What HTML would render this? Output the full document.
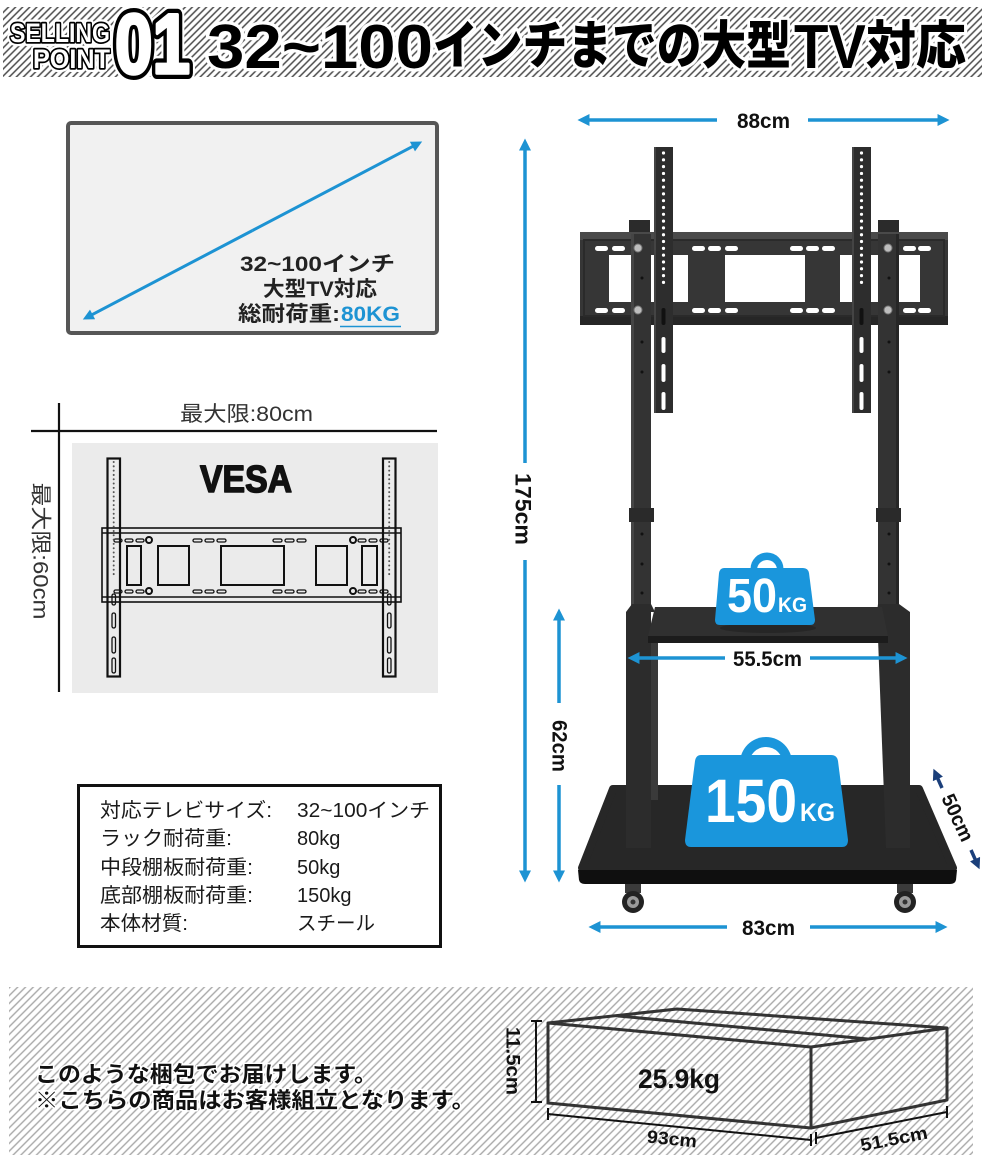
<!DOCTYPE html>
<html><head><meta charset="utf-8"><style>
html,body{margin:0;padding:0;background:#fff;}
svg{display:block;}
.jp{font-family:"Liberation Sans","Noto Sans CJK JP",sans-serif;}
</style></head><body>
<svg width="984" height="1159" viewBox="0 0 984 1159" xmlns="http://www.w3.org/2000/svg" class="jp">
<defs>
<pattern id="h1" width="5" height="5" patternUnits="userSpaceOnUse" patternTransform="rotate(45)">
<rect width="5" height="5" fill="#fff"/><line x1="1" y1="0" x2="1" y2="5" stroke="#4a4a4a" stroke-width="1.5"/></pattern>
<pattern id="h2" width="5.5" height="5.5" patternUnits="userSpaceOnUse" patternTransform="rotate(45)">
<rect width="5.5" height="5.5" fill="#fff"/><line x1="1" y1="0" x2="1" y2="5.5" stroke="#a8a8a8" stroke-width="1.4"/></pattern>
<marker id="ab" viewBox="0 0 10 10" refX="5.4" refY="5" markerWidth="14" markerHeight="12" markerUnits="userSpaceOnUse" orient="auto"><path d="M0,0 L10,5 L0,10 z" fill="#1d93d3"/></marker>
<marker id="ab2" viewBox="0 0 10 10" refX="5.4" refY="5" markerWidth="13" markerHeight="11" markerUnits="userSpaceOnUse" orient="auto"><path d="M0,0 L10,5 L0,10 z" fill="#1d93d3"/></marker>
<marker id="an" viewBox="0 0 10 10" refX="5.4" refY="5" markerWidth="13" markerHeight="11" markerUnits="userSpaceOnUse" orient="auto"><path d="M0,0 L10,5 L0,10 z" fill="#1b3f7a"/></marker>
</defs>
<rect width="984" height="1159" fill="#fff"/>

<!-- HEADER -->
<rect x="3" y="7" width="979" height="70" fill="url(#h1)"/>
<g font-weight="bold" font-family="Liberation Sans, sans-serif">
<text x="10" y="42" font-size="27" textLength="100" lengthAdjust="spacingAndGlyphs" fill="#fff" stroke="#fff" stroke-width="8" stroke-linejoin="round">SELLING</text>
<text x="10" y="42" font-size="27" textLength="100" lengthAdjust="spacingAndGlyphs" fill="#fff" stroke="#000" stroke-width="3.5" stroke-linejoin="round" paint-order="stroke">SELLING</text>
<text x="33" y="68" font-size="27" textLength="77" lengthAdjust="spacingAndGlyphs" fill="#fff" stroke="#fff" stroke-width="8" stroke-linejoin="round">POINT</text>
<text x="33" y="68" font-size="27" textLength="77" lengthAdjust="spacingAndGlyphs" fill="#fff" stroke="#000" stroke-width="3.5" stroke-linejoin="round" paint-order="stroke">POINT</text>
<text x="115" y="73" font-size="84" textLength="75" lengthAdjust="spacingAndGlyphs" fill="#fff" stroke="#fff" stroke-width="17" stroke-linejoin="round">01</text>
<text x="115" y="73" font-size="84" textLength="75" lengthAdjust="spacingAndGlyphs" fill="#000" stroke="#000" stroke-width="12" stroke-linejoin="round">01</text>
<text x="115" y="73" font-size="84" textLength="75" lengthAdjust="spacingAndGlyphs" fill="#fff" stroke="#fff" stroke-width="3.5" stroke-linejoin="round">01</text>
</g>
<g font-weight="900" fill="#777" opacity="0.6" transform="translate(2,2)">
<text x="207" y="68" font-size="62" textLength="226" lengthAdjust="spacingAndGlyphs" font-family="Liberation Sans, sans-serif" font-weight="bold">32~100</text>
<text x="433" y="64" font-size="52" textLength="358" lengthAdjust="spacingAndGlyphs">インチまでの大型</text>
<text x="794" y="68" font-size="62" textLength="72" lengthAdjust="spacingAndGlyphs" font-family="Liberation Sans, sans-serif" font-weight="bold">TV</text>
<text x="866" y="64" font-size="52" textLength="100" lengthAdjust="spacingAndGlyphs">対応</text>
</g>
<g font-weight="900" fill="#000" stroke="#fff" stroke-width="6.5" stroke-linejoin="round" paint-order="stroke">
<text x="207" y="68" font-size="62" textLength="226" lengthAdjust="spacingAndGlyphs" font-family="Liberation Sans, sans-serif" font-weight="bold">32~100</text>
<text x="433" y="64" font-size="52" textLength="358" lengthAdjust="spacingAndGlyphs">インチまでの大型</text>
<text x="794" y="68" font-size="62" textLength="72" lengthAdjust="spacingAndGlyphs" font-family="Liberation Sans, sans-serif" font-weight="bold">TV</text>
<text x="866" y="64" font-size="52" textLength="100" lengthAdjust="spacingAndGlyphs">対応</text>
</g>

<!-- TV BOX -->
<rect x="68" y="123" width="369" height="210" rx="3" fill="#f1f1f1" stroke="#565656" stroke-width="4"/>
<line x1="252.5" y1="230.5" x2="417.7" y2="143.8" stroke="#1d93d3" stroke-width="3" marker-end="url(#ab2)"/>
<line x1="252.5" y1="230.5" x2="87.3" y2="317.2" stroke="#1d93d3" stroke-width="3" marker-end="url(#ab2)"/>
<g font-weight="bold" font-size="21" fill="#222" stroke="#f1f1f1" stroke-width="3" paint-order="stroke">
<text x="240" y="271" textLength="155" lengthAdjust="spacingAndGlyphs">32~100インチ</text>
<text x="263" y="296" textLength="114" lengthAdjust="spacingAndGlyphs">大型TV対応</text>
<text x="238" y="321" textLength="102" lengthAdjust="spacingAndGlyphs">総耐荷重:</text>
<text x="341" y="321" textLength="59" lengthAdjust="spacingAndGlyphs" fill="#1d93d3">80KG</text>
</g>
<line x1="340" y1="326.5" x2="401" y2="326.5" stroke="#1d93d3" stroke-width="1.5"/>

<!-- VESA -->
<rect x="72" y="443" width="366" height="250" fill="#ebebeb"/>
<line x1="31" y1="431" x2="437" y2="431" stroke="#111" stroke-width="2.2"/>
<line x1="59" y1="403" x2="59" y2="692" stroke="#111" stroke-width="2.2"/>
<text x="180" y="421" font-size="21" fill="#333" textLength="133" lengthAdjust="spacingAndGlyphs">最大限:80cm</text>
<text transform="translate(40,551) rotate(90)" text-anchor="middle" dominant-baseline="central" font-size="21" fill="#333" textLength="137" lengthAdjust="spacingAndGlyphs">最大限:60cm</text>
<text x="200" y="492" font-size="38" font-weight="bold" fill="#111" stroke="#111" stroke-width="1.6" stroke-linejoin="round" font-family="Liberation Sans, sans-serif" textLength="92" lengthAdjust="spacingAndGlyphs">VESA</text>
<g fill="none" stroke="#111" stroke-width="1.6">
<rect x="102" y="528" width="299" height="74"/>
<line x1="102" y1="533" x2="401" y2="533"/>
<line x1="102" y1="597" x2="401" y2="597"/>
<rect x="107.5" y="458.5" width="12.5" height="218" stroke-width="2.2"/>
<rect x="383" y="458.5" width="12.5" height="218" stroke-width="2.2"/>
<rect x="127" y="546" width="14" height="39" stroke-width="2"/>
<rect x="158" y="546" width="31" height="39" stroke-width="2"/>
<rect x="221" y="546" width="63" height="39" stroke-width="2"/>
<rect x="316" y="546" width="31" height="39" stroke-width="2"/>
<rect x="362" y="546" width="15" height="39" stroke-width="2"/>
<g stroke-width="1.3">
<rect x="114" y="539" width="8" height="3" rx="1.5"/><rect x="125" y="539" width="8" height="3" rx="1.5"/><rect x="136" y="539" width="8" height="3" rx="1.5"/>
<rect x="193" y="539" width="9" height="3" rx="1.5"/><rect x="205" y="539" width="9" height="3" rx="1.5"/><rect x="217" y="539" width="9" height="3" rx="1.5"/>
<rect x="273" y="539" width="9" height="3" rx="1.5"/><rect x="285" y="539" width="9" height="3" rx="1.5"/><rect x="297" y="539" width="9" height="3" rx="1.5"/>
<rect x="358" y="539" width="8" height="3" rx="1.5"/><rect x="369" y="539" width="8" height="3" rx="1.5"/><rect x="380" y="539" width="8" height="3" rx="1.5"/>
<rect x="114" y="590" width="8" height="3" rx="1.5"/><rect x="125" y="590" width="8" height="3" rx="1.5"/><rect x="136" y="590" width="8" height="3" rx="1.5"/>
<rect x="193" y="590" width="9" height="3" rx="1.5"/><rect x="205" y="590" width="9" height="3" rx="1.5"/><rect x="217" y="590" width="9" height="3" rx="1.5"/>
<rect x="273" y="590" width="9" height="3" rx="1.5"/><rect x="285" y="590" width="9" height="3" rx="1.5"/><rect x="297" y="590" width="9" height="3" rx="1.5"/>
<rect x="358" y="590" width="8" height="3" rx="1.5"/><rect x="369" y="590" width="8" height="3" rx="1.5"/><rect x="380" y="590" width="8" height="3" rx="1.5"/>
</g>
<circle cx="149" cy="540" r="3" stroke-width="2"/><circle cx="149" cy="591" r="3" stroke-width="2"/>
<circle cx="353" cy="540" r="3" stroke-width="2"/><circle cx="353" cy="591" r="3" stroke-width="2"/>
<g stroke-width="1.3">
<rect x="112" y="594" width="3.5" height="11" rx="1.7"/><rect x="112" y="613" width="3.5" height="15" rx="1.7"/><rect x="112" y="637" width="3.5" height="16" rx="1.7"/><rect x="112" y="658" width="3.5" height="15" rx="1.7"/>
<rect x="387.5" y="594" width="3.5" height="11" rx="1.7"/><rect x="387.5" y="613" width="3.5" height="15" rx="1.7"/><rect x="387.5" y="637" width="3.5" height="16" rx="1.7"/><rect x="387.5" y="658" width="3.5" height="15" rx="1.7"/>
</g>
</g>
<line x1="113.7" y1="462" x2="113.7" y2="576" stroke="#555" stroke-width="2" stroke-linecap="round" stroke-dasharray="0.01 4.3"/>
<line x1="389.2" y1="462" x2="389.2" y2="576" stroke="#555" stroke-width="2" stroke-linecap="round" stroke-dasharray="0.01 4.3"/>

<!-- SPEC TABLE -->
<rect x="78.5" y="785.5" width="362" height="161" fill="#fff" stroke="#111" stroke-width="3"/>
<g font-size="20" fill="#1a1a1a">
<text x="100" y="817" textLength="172" lengthAdjust="spacingAndGlyphs">対応テレビサイズ:</text>
<text x="297" y="817" textLength="133" lengthAdjust="spacingAndGlyphs">32~100インチ</text>
<text x="100" y="845" textLength="132" lengthAdjust="spacingAndGlyphs">ラック耐荷重:</text>
<text x="297" y="845">80kg</text>
<text x="100" y="874" textLength="153" lengthAdjust="spacingAndGlyphs">中段棚板耐荷重:</text>
<text x="297" y="874">50kg</text>
<text x="100" y="902" textLength="153" lengthAdjust="spacingAndGlyphs">底部棚板耐荷重:</text>
<text x="297" y="902">150kg</text>
<text x="100" y="930" textLength="88" lengthAdjust="spacingAndGlyphs">本体材質:</text>
<text x="297" y="930" textLength="78" lengthAdjust="spacingAndGlyphs">スチール</text>
</g>

<!-- STAND -->
<rect x="629" y="220" width="21" height="14" fill="#2b2b2b"/>
<rect x="878" y="220" width="21" height="14" fill="#2b2b2b"/>
<rect x="580" y="232" width="368" height="93" fill="#363636"/>
<rect x="580" y="232" width="368" height="8" fill="#4a4a4a"/>
<rect x="580" y="316" width="368" height="9" fill="#262626"/>
<rect x="584" y="240" width="360" height="76" fill="none" stroke="#2a2a2a" stroke-width="2"/>
<g fill="#fff">
<rect x="609" y="255" width="79" height="47"/>
<rect x="725" y="255" width="80" height="47"/>
<rect x="840" y="255" width="80" height="47"/>
<rect x="595" y="246" width="13" height="5" rx="2.5"/><rect x="612" y="246" width="13" height="5" rx="2.5"/>
<rect x="692" y="246" width="13" height="5" rx="2.5"/><rect x="708" y="246" width="13" height="5" rx="2.5"/><rect x="725" y="246" width="13" height="5" rx="2.5"/>
<rect x="790" y="246" width="13" height="5" rx="2.5"/><rect x="806" y="246" width="13" height="5" rx="2.5"/><rect x="822" y="246" width="13" height="5" rx="2.5"/>
<rect x="903" y="246" width="13" height="5" rx="2.5"/><rect x="918" y="246" width="13" height="5" rx="2.5"/>
<rect x="595" y="308" width="13" height="5" rx="2.5"/><rect x="612" y="308" width="13" height="5" rx="2.5"/>
<rect x="692" y="308" width="13" height="5" rx="2.5"/><rect x="708" y="308" width="13" height="5" rx="2.5"/><rect x="725" y="308" width="13" height="5" rx="2.5"/>
<rect x="790" y="308" width="13" height="5" rx="2.5"/><rect x="806" y="308" width="13" height="5" rx="2.5"/><rect x="822" y="308" width="13" height="5" rx="2.5"/>
<rect x="903" y="308" width="13" height="5" rx="2.5"/><rect x="918" y="308" width="13" height="5" rx="2.5"/>
</g>
<!-- posts -->
<rect x="631" y="234" width="20" height="380" fill="#333"/>
<rect x="878" y="234" width="21" height="380" fill="#333"/>
<rect x="631" y="234" width="3" height="380" fill="#454545"/>
<rect x="896" y="234" width="3" height="380" fill="#262626"/>
<rect x="629" y="508" width="25" height="14" fill="#2a2a2a"/>
<rect x="876" y="508" width="25" height="14" fill="#2a2a2a"/>
<g fill="#111"><circle cx="642" cy="278" r="1.5"/><circle cx="642" cy="342" r="1.5"/><circle cx="642" cy="372" r="1.5"/><circle cx="642" cy="534" r="1.5"/><circle cx="642" cy="564" r="1.5"/><circle cx="642" cy="593" r="1.5"/>
<circle cx="889" cy="278" r="1.5"/><circle cx="889" cy="342" r="1.5"/><circle cx="889" cy="372" r="1.5"/><circle cx="889" cy="534" r="1.5"/><circle cx="889" cy="564" r="1.5"/><circle cx="889" cy="593" r="1.5"/></g>
<g fill="#bdbdbd" stroke="#777" stroke-width="1"><circle cx="638" cy="248" r="4"/><circle cx="638" cy="310" r="4"/><circle cx="888" cy="248" r="4"/><circle cx="888" cy="310" r="4"/></g>
<!-- brackets -->
<rect x="654" y="147" width="19" height="266" fill="#2d2d2d"/>
<rect x="852" y="147" width="19" height="266" fill="#2d2d2d"/>
<rect x="654" y="147" width="2" height="266" fill="#444"/>
<rect x="852" y="147" width="2" height="266" fill="#444"/>
<line x1="663.5" y1="153" x2="663.5" y2="288" stroke="#fff" stroke-width="3.2" stroke-linecap="round" stroke-dasharray="0.01 6.8"/>
<line x1="861.5" y1="153" x2="861.5" y2="288" stroke="#fff" stroke-width="3.2" stroke-linecap="round" stroke-dasharray="0.01 6.8"/>
<g fill="#fff">
<rect x="661.5" y="337" width="4" height="16" rx="2"/><rect x="661.5" y="364" width="4" height="18" rx="2"/><rect x="661.5" y="392" width="4" height="18" rx="2"/>
<rect x="859.5" y="337" width="4" height="16" rx="2"/><rect x="859.5" y="364" width="4" height="18" rx="2"/><rect x="859.5" y="392" width="4" height="18" rx="2"/>
</g>
<rect x="661.5" y="308" width="4" height="17" rx="2" fill="#111"/>
<rect x="859.5" y="308" width="4" height="17" rx="2" fill="#111"/>
<!-- base -->
<polygon points="613,789 919,789 953,868 582,868" fill="#272727" stroke="#272727" stroke-width="8" stroke-linejoin="round"/>
<path d="M578,870 L957,870 L956,880 Q955,884 950,884 L585,884 Q580,884 579,880 Z" fill="#0f0f0f"/>
<!-- wheels -->
<rect x="625" y="884" width="16" height="9" fill="#3a3a3a"/>
<rect x="897" y="884" width="16" height="9" fill="#3a3a3a"/>
<circle cx="633" cy="902" r="11" fill="#222"/><circle cx="633" cy="902" r="6" fill="#9a9a9a"/><circle cx="633" cy="902" r="2.5" fill="#333"/>
<circle cx="905" cy="902" r="11" fill="#222"/><circle cx="905" cy="902" r="6" fill="#9a9a9a"/><circle cx="905" cy="902" r="2.5" fill="#333"/>
<!-- legs -->
<polygon points="626,612 651,612 651,848 626,848" fill="#2c2c2c"/>
<polygon points="651,640 658,640 658,800 651,800" fill="#3a3a3a"/>
<polygon points="877,612 910,612 910,848 886,848" fill="#2c2c2c"/>
<polygon points="626,612 632,604 651,604 655,612" fill="#2c2c2c"/>
<polygon points="878,604 899,604 910,612 877,612" fill="#2c2c2c"/>
<!-- shelf -->
<polygon points="655,607 882,607 888,636 648,636" fill="#303030"/>
<rect x="648" y="636" width="240" height="7" fill="#1c1c1c"/>
<ellipse cx="768" cy="628" rx="48" ry="5" fill="#262626"/>

<!-- 50KG badge -->
<circle cx="767" cy="569" r="16.5" fill="#1a96dc"/>
<circle cx="767" cy="570" r="10" fill="#fff"/>
<path d="M724,568 L803,568 Q808,568 809,573 L815,620 Q815,625 810,625 L720,625 Q715,625 715,620 L719,573 Q720,568 724,568 Z" fill="#1a96dc"/>
<text x="727" y="612" font-size="48" font-weight="bold" fill="#fff" font-family="Liberation Sans, sans-serif" textLength="50" lengthAdjust="spacingAndGlyphs">50</text>
<text x="778" y="612" font-size="21" font-weight="bold" fill="#fff" font-family="Liberation Sans, sans-serif" textLength="29" lengthAdjust="spacingAndGlyphs">KG</text>

<!-- 150KG badge -->
<circle cx="766" cy="763" r="26" fill="#1a96dc"/>
<circle cx="766" cy="764" r="17" fill="#fff"/>
<path d="M701,755 L831,755 Q837,755 838,761 L848,840 Q848,847 842,847 L691,847 Q685,847 685,840 L695,761 Q696,755 701,755 Z" fill="#1a96dc"/>
<text x="705" y="822" font-size="61" font-weight="bold" fill="#fff" font-family="Liberation Sans, sans-serif" textLength="92" lengthAdjust="spacingAndGlyphs">150</text>
<text x="800" y="821" font-size="25" font-weight="bold" fill="#fff" font-family="Liberation Sans, sans-serif" textLength="35" lengthAdjust="spacingAndGlyphs">KG</text>

<!-- ARROWS -->
<g stroke="#1d93d3" stroke-width="3.5" marker-end="url(#ab)">
<line x1="717" y1="120" x2="583" y2="120"/>
<line x1="808" y1="120" x2="944" y2="120"/>
<line x1="525" y1="463" x2="525" y2="144"/>
<line x1="525" y1="560" x2="525" y2="877"/>
<line x1="559" y1="703" x2="559" y2="614"/>
<line x1="559" y1="785" x2="559" y2="877"/>
<line x1="725" y1="658" x2="633" y2="658"/>
<line x1="810" y1="658" x2="902" y2="658"/>
<line x1="727" y1="927" x2="594" y2="927"/>
<line x1="810" y1="927" x2="942" y2="927"/>
</g>
<g stroke="#1b3f7a" stroke-width="3.5" marker-end="url(#an)">
<line x1="942" y1="788" x2="935.5" y2="773.4"/>
<line x1="971" y1="850" x2="977.5" y2="864.6"/>
</g>
<g font-weight="bold" fill="#111" font-size="21">
<text x="737" y="128" textLength="53" lengthAdjust="spacingAndGlyphs">88cm</text>
<text x="733" y="666" textLength="69" lengthAdjust="spacingAndGlyphs">55.5cm</text>
<text x="742" y="935" textLength="53" lengthAdjust="spacingAndGlyphs">83cm</text>
<text transform="translate(523,509) rotate(90)" text-anchor="middle" dominant-baseline="central" font-size="22" textLength="72" lengthAdjust="spacingAndGlyphs">175cm</text>
<text transform="translate(559,746) rotate(90)" text-anchor="middle" dominant-baseline="central" textLength="52" lengthAdjust="spacingAndGlyphs">62cm</text>
<text transform="translate(957,818) rotate(65)" text-anchor="middle" dominant-baseline="central" font-size="20" textLength="50" lengthAdjust="spacingAndGlyphs">50cm</text>
</g>

<!-- BOTTOM SECTION -->
<rect x="9" y="987" width="964" height="168" fill="url(#h2)"/>
<g font-weight="bold" font-size="22" fill="#111" stroke="#fff" stroke-width="3" stroke-linejoin="round" paint-order="stroke">
<text x="35" y="1082" textLength="342" lengthAdjust="spacingAndGlyphs">このような梱包でお届けします。</text>
<text x="35" y="1108" textLength="440" lengthAdjust="spacingAndGlyphs">※こちらの商品はお客様組立となります。</text>
</g>
<g fill="none" stroke="#333" stroke-width="3" stroke-linejoin="round">
<polygon points="548,1023 811,1047 811,1128 548,1103"/>
<polygon points="811,1047 947,1028 947,1100 811,1128"/>
<polyline points="548,1023 677,1009 947,1028"/>
<line x1="618" y1="1016" x2="868" y2="1039"/>
</g>
<g stroke="#111" stroke-width="2" fill="none">
<line x1="536" y1="1021" x2="536" y2="1102"/>
<line x1="531" y1="1021" x2="542" y2="1021"/>
<line x1="531" y1="1102" x2="542" y2="1102"/>
<line x1="548" y1="1114" x2="811" y2="1140"/>
<line x1="548" y1="1108" x2="548" y2="1120"/>
<line x1="811" y1="1134" x2="811" y2="1146"/>
<line x1="816" y1="1138" x2="947" y2="1112"/>
<line x1="816" y1="1132" x2="816" y2="1144"/>
<line x1="947" y1="1106" x2="947" y2="1118"/>
</g>
<g font-weight="bold" fill="#111">
<text transform="translate(512,1061) rotate(90)" text-anchor="middle" dominant-baseline="central" font-size="19" textLength="68" lengthAdjust="spacingAndGlyphs">11.5cm</text>
<text x="638" y="1088" font-size="27" textLength="82" lengthAdjust="spacingAndGlyphs">25.9kg</text>
<text transform="translate(672,1139) rotate(5.6)" text-anchor="middle" dominant-baseline="central" font-size="18" textLength="50" lengthAdjust="spacingAndGlyphs">93cm</text>
<text transform="translate(894,1139) rotate(-11)" text-anchor="middle" dominant-baseline="central" font-size="18" textLength="68" lengthAdjust="spacingAndGlyphs">51.5cm</text>
</g>
</svg>
</body></html>
